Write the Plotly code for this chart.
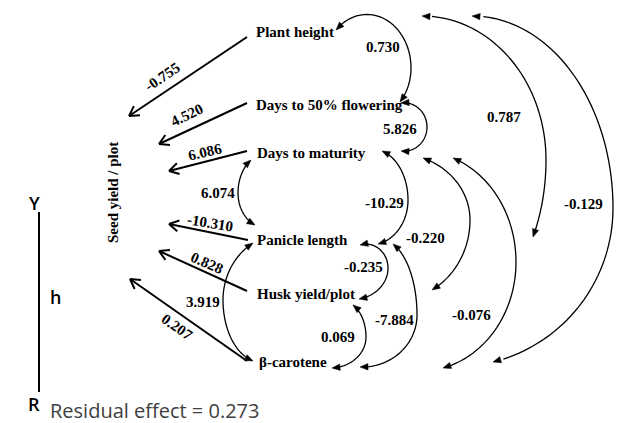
import numpy as np
import plotly.graph_objects as go

# ---------------- data ----------------
traits = ["Plant height", "Days to 50% flowering", "Days to maturity",
          "Panicle length", "Husk yield/plot", "β-carotene"]
direct_effects = [-0.755, 4.520, 6.086, -10.310, 0.828, 0.207]
corr_labels = ["0.730", "5.826", "0.787", "-0.129", "-10.29", "-0.220",
               "-0.076", "-0.235", "-7.884", "0.069", "6.074", "3.919"]
dependent = "Seed yield / plot"
residual = 0.273

# ---------------- layout geometry (pixels) ----------------
W, H = 621, 423
node_pos = [(254, 32), (254, 105), (255, 153), (255, 240), (255, 294), (257, 362)]
arrow_tail = [(247, 37), (247, 103), (247, 151), (248, 240), (247, 291), (247, 361)]
arrow_tip = [(129, 116), (159, 144), (169, 171), (169, 224), (159, 251), (130, 279)]
de_label_pos = [(162, 77), (187, 115), (205, 152), (210, 223), (207, 263), (177, 327)]
de_label_ang = [-34, -25, -13, 9, 24, 35]

# arcs: P0, P3, xm, ym, cx_top, cx_bot
arcs = [
    ((336, 30), (400, 102), 411, 68, 367, 367),
    ((401, 103), (401, 151), 427, 127, 404, 404),
    ((422, 16), (533, 237), 546, 160, 422, 424),
    ((472, 16), (493, 362), 613, 208, 472, 455),
    ((382, 151), (378, 244), 408, 200, 372, 370),
    ((423, 158), (432, 290), 470, 220, 395, 395),
    ((453, 158), (443, 368), 516, 262, 420, 420),
    ((360, 245), (359, 299), 388, 268, 366, 352),
    ((393, 244), (360, 367), 417, 315, 380, 362),
    ((353, 305), (332, 368), 366, 337, 342, 330),
    ((251, 160), (255, 225), 238, 193, 266, 266),
    ((253, 243), (253, 361), 223, 300, 285, 262),
]
corr_label_pos = [(383, 47), (400, 129), (504, 117), (583, 204), (384, 203),
                  (425, 238), (471, 315), (363, 267), (394, 320), (338, 337),
                  (218, 193), (203, 302)]

shapes = []
annotations = []
serif = "Liberation Serif, Times New Roman, serif"


def arc_points(p0, p3, xm, ym, cxt, cxb, n=40):
    x0, y0 = p0
    x3, y3 = p3
    rxt = xm - cxt
    u0 = np.clip((x0 - cxt) / rxt, -0.999, 0.999)
    t0 = -np.arccos(u0)
    ryt = (ym - y0) / np.sqrt(1 - u0 ** 2)
    t = np.linspace(t0, 0, n)
    xs = list(cxt + rxt * np.cos(t))
    ys = list(ym + ryt * np.sin(t))
    rxb = xm - cxb
    u1 = np.clip((x3 - cxb) / rxb, -0.999, 0.999)
    t1 = np.arccos(u1)
    ryb = (y3 - ym) / np.sqrt(1 - u1 ** 2)
    t = np.linspace(0, t1, n)[1:]
    xs += list(cxb + rxb * np.cos(t))
    ys += list(ym + ryb * np.sin(t))
    return np.array(xs), np.array(ys)


def filled_head(tip, frm, length=8, half=3.2):
    d = np.array(tip, float) - np.array(frm, float)
    d /= np.linalg.norm(d)
    nrm = np.array([-d[1], d[0]])
    tip = np.array(tip, float)
    b = tip - d * length
    p1 = b + nrm * half
    p2 = b - nrm * half
    shapes.append(dict(type="path", xref="x", yref="y",
                       path=f"M {tip[0]:.2f},{tip[1]:.2f} L {p1[0]:.2f},{p1[1]:.2f} L {p2[0]:.2f},{p2[1]:.2f} Z",
                       fillcolor="black", line=dict(color="black", width=0.5)))
    return b


for k, a in enumerate(arcs):
    xs, ys = arc_points(*a)
    pts = " L ".join(f"{x:.2f},{y:.2f}" for x, y in zip(xs[2:-2], ys[2:-2]))
    shapes.append(dict(type="path", xref="x", yref="y", path="M " + pts,
                       line=dict(color="black", width=1.3)))
    filled_head((xs[0], ys[0]), (xs[3], ys[3]))
    filled_head((xs[-1], ys[-1]), (xs[-4], ys[-4]))
    annotations.append(dict(x=corr_label_pos[k][0], y=corr_label_pos[k][1],
                            xref="x", yref="y", text=f"<b>{corr_labels[k]}</b>",
                            showarrow=False, font=dict(family=serif, size=15, color="black")))

for i in range(len(traits)):
    tail, tip = np.array(arrow_tail[i], float), np.array(arrow_tip[i], float)
    shapes.append(dict(type="line", xref="x", yref="y", x0=tail[0], y0=tail[1],
                       x1=tip[0], y1=tip[1], line=dict(color="black", width=2)))
    d = (tip - tail) / np.linalg.norm(tip - tail)
    for s in (1, -1):
        ang = np.radians(30 * s)
        rot = np.array([[np.cos(ang), -np.sin(ang)], [np.sin(ang), np.cos(ang)]])
        back = tip - rot @ d * 11
        shapes.append(dict(type="line", xref="x", yref="y", x0=tip[0], y0=tip[1],
                           x1=back[0], y1=back[1], line=dict(color="black", width=2)))
    annotations.append(dict(x=node_pos[i][0], y=node_pos[i][1], xref="x", yref="y",
                            text=f"<b>{traits[i]}</b>", showarrow=False, xanchor="left",
                            font=dict(family=serif, size=15, color="black")))
    annotations.append(dict(x=de_label_pos[i][0], y=de_label_pos[i][1], xref="x", yref="y",
                            text=f"<b>{direct_effects[i]:.3f}</b>", showarrow=False,
                            textangle=de_label_ang[i],
                            font=dict(family=serif, size=15, color="black")))

annotations.append(dict(x=113, y=193, xref="x", yref="y", text=f"<b>{dependent}</b>",
                        showarrow=False, textangle=-90,
                        font=dict(family=serif, size=15, color="black")))

sans = "Open Sans, Segoe UI, sans-serif"
for txt, x, y in (("Y", 34, 203), ("h", 55, 297), ("R", 34, 404)):
    annotations.append(dict(x=x, y=y, xref="x", yref="y", text=txt, showarrow=False,
                            font=dict(family=sans, size=18, color="black", weight=600)))
shapes.append(dict(type="line", xref="x", yref="y", x0=39, y0=212, x1=39, y1=392,
                   line=dict(color="black", width=2)))
annotations.append(dict(x=48, y=410, xref="x", yref="y", xanchor="left",
                        text=f"Residual effect = {residual}", showarrow=False,
                        font=dict(family=sans, size=20, color="#404040")))

fig = go.Figure()
fig.update_layout(width=W, height=H, margin=dict(l=0, r=0, t=0, b=0),
                  paper_bgcolor="white", plot_bgcolor="white",
                  xaxis=dict(range=[0, W], visible=False, fixedrange=True),
                  yaxis=dict(range=[H, 0], visible=False, fixedrange=True),
                  shapes=shapes, annotations=annotations, showlegend=False)
fig.write_html("out.html", config={"displayModeBar": False})
